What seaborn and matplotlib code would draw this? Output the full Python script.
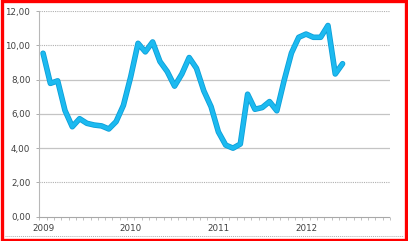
import matplotlib
matplotlib.use("Agg")
import matplotlib.pyplot as plt
import seaborn as sns
import pandas as pd
from matplotlib.patches import Rectangle

months = list(range(42))
values = [9.54, 7.78, 7.93, 6.2, 5.25, 5.72, 5.45, 5.35, 5.3, 5.12, 5.55, 6.5,
          8.17, 10.12, 9.62, 10.2, 9.06, 8.47, 7.62, 8.33, 9.29, 8.66, 7.35, 6.42,
          4.95, 4.18, 4.0, 4.24, 7.15, 6.27, 6.37, 6.72, 6.18, 7.95, 9.55, 10.47,
          10.66, 10.47, 10.47, 11.16, 8.33, 8.93]
year_labels = ["2009", "2010", "2011", "2012"]
year_pos = [0, 12, 24, 36]
y_ticks = [0, 2, 4, 6, 8, 10, 12]
y_labels = ["0,00", "2,00", "4,00", "6,00", "8,00", "10,00", "12,00"]

df = pd.DataFrame({"m": months, "v": values})

sns.set_style("white")
plt.rcParams['font.family'] = ['DejaVu Sans']

fig = plt.figure(figsize=(4.08, 2.41), dpi=100)
ax = fig.add_axes([0.0966, 0.1008, 0.8594, 0.8532])

# gridlines
for yv in [2, 10, 12]:
    ax.axhline(yv, color="#b0b0b0", lw=0.8, ls=(0, (1, 1)), zorder=0)
for yv in [4, 6, 8]:
    ax.axhline(yv, color="#c4c4c4", lw=0.9, zorder=0)

sns.lineplot(data=df, x="m", y="v", ax=ax, color="#0d9fd8", lw=4.0,
             solid_capstyle="round", solid_joinstyle="round", zorder=3)
sns.lineplot(data=df, x="m", y="v", ax=ax, color="#1cbaf0", lw=2.8,
             solid_capstyle="round", solid_joinstyle="round", zorder=4)

ax.set_xlim(-0.5, 47.5)
ax.set_ylim(0, 12)
ax.set_xlabel("")
ax.set_ylabel("")
ax.set_yticks(y_ticks)
ax.set_yticklabels(y_labels)
ax.set_xticks(year_pos)
ax.set_xticklabels(year_labels)
ax.set_xticks([i - 0.5 for i in range(49)], minor=True)

for s in ["top", "right"]:
    ax.spines[s].set_visible(False)
ax.spines["left"].set_color("#b8b8b8")
ax.spines["left"].set_linewidth(0.8)
ax.spines["bottom"].set_color("#a8a8a8")
ax.spines["bottom"].set_linewidth(0.8)
ax.spines["bottom"].set_linestyle((0, (1, 1)))

ax.tick_params(axis="y", which="major", length=2.5, width=0.6, color="#a0a0a0",
               labelsize=6.3, labelcolor="#404040", pad=4, left=True)
ax.tick_params(axis="x", which="major", length=0, labelsize=6.3, labelcolor="#404040", pad=5)
ax.tick_params(axis="x", which="minor", length=2, width=0.5, color="#a8a8a8", bottom=True)

# frame: red border and inner dotted line
fig.patches.append(Rectangle((0.0037, 0.006), 0.9926, 0.988, transform=fig.transFigure,
                             fill=False, edgecolor="#ff0000", lw=2.4, zorder=10))
fig.add_artist(plt.Line2D([0.012, 0.988], [0.02, 0.02], transform=fig.transFigure,
                          color="#b0b0b0", lw=0.7, ls=(0, (1, 1))))

fig.savefig("out.png", dpi=100)
